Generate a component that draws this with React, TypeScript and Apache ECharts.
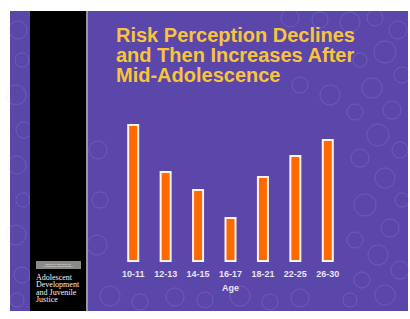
import React, { useEffect, useRef } from "react";
import * as echarts from "echarts";

const ageGroups = ["10-11", "12-13", "14-15", "16-17", "18-21", "22-25", "26-30"];
const riskPerception = [138, 91, 73, 45, 86, 107, 123];
const titleLines = ["Risk Perception Declines", "and Then Increases After", "Mid-Adolescence"];
const sideTextLines = ["Adolescent", "Development", "and Juvenile", "Justice"];
const xAxisName = "Age";

// decorative bubble pattern of the slide background: [cx, cy, r]
const bubbles: number[][] = [
  [18, 30, 9], [22, 60, 7], [16, 95, 10], [24, 130, 8], [17, 165, 9], [23, 200, 7], [16, 235, 10], [22, 275, 8], [17, 300, 7],
  [350, 22, 10], [375, 18, 8], [398, 30, 9], [385, 52, 11], [360, 60, 7], [402, 75, 8], [372, 88, 10], [392, 110, 9],
  [355, 112, 8], [378, 135, 11], [400, 150, 8], [360, 158, 9], [385, 178, 10], [402, 200, 7], [365, 205, 11], [390, 228, 9],
  [355, 240, 8], [378, 255, 10], [400, 270, 9], [362, 280, 8], [385, 295, 10], [350, 300, 7], [300, 298, 9], [270, 302, 8],
  [240, 296, 10], [205, 300, 8], [175, 297, 9], [140, 302, 8], [110, 296, 10], [98, 150, 9], [100, 200, 8], [97, 245, 10],
  [320, 20, 8], [290, 18, 9], [300, 85, 8], [330, 95, 10]
];

export default function App() {
  const ref = useRef<HTMLDivElement>(null);
  useEffect(() => {
    if (!ref.current) return;
    const chart = echarts.init(ref.current, undefined, { renderer: "svg" });
    const bubbleEls = bubbles.map(([cx, cy, r]) => ({
      type: "circle",
      shape: { cx, cy, r },
      style: { fill: "none", stroke: "rgba(200,190,255,0.16)", lineWidth: 1 },
      z: -9,
    }));
    chart.setOption({
      animation: false,
      backgroundColor: "#ffffff",
      graphic: [
        { type: "rect", shape: { x: 10, y: 11, width: 398, height: 300 }, style: { fill: "#5b47aa" }, z: -10 },
        ...bubbleEls,
        { type: "rect", shape: { x: 30, y: 11, width: 56, height: 300 }, style: { fill: "#000000" }, z: -8 },
        { type: "rect", shape: { x: 86, y: 11, width: 2, height: 300 }, style: { fill: "#9a96a8" }, z: -8 },
        { type: "rect", shape: { x: 36, y: 261, width: 45, height: 8 }, style: { fill: "#8c8a88" }, z: -7 },
        {
          type: "text",
          x: 58,
          y: 265,
          style: {
            text: "RESEARCH NETWORK ON\nADOLESCENT DEVELOPMENT",
            fill: "#e8e6e2",
            font: "2px 'Liberation Sans', Arial, sans-serif",
            align: "center",
            verticalAlign: "middle",
          },
          z: -6,
        },
        ...sideTextLines.map((t, i) => ({
          type: "text",
          x: 36,
          y: 277 + i * 7.5,
          style: {
            text: t,
            fill: "#f2f2f2",
            font: "8px 'Liberation Serif', 'Times New Roman', serif",
            align: "left",
            verticalAlign: "middle",
          },
          z: -6,
        })),
        {
          type: "text",
          x: 116,
          y: 25,
          style: {
            text: titleLines.join("\n"),
            fill: "#f7c53c",
            font: "bold 20px 'Liberation Sans', Arial, sans-serif",
            lineHeight: 20,
            align: "left",
            verticalAlign: "top",
          },
        },
      ],
      grid: { left: 117, right: 66, top: 112, bottom: 57, containLabel: false },
      xAxis: {
        type: "category",
        data: ageGroups,
        name: xAxisName,
        nameLocation: "middle",
        nameGap: 21,
        nameTextStyle: { color: "#e6e2f2", fontSize: 9, fontWeight: "bold", fontFamily: "'Liberation Sans', Arial, sans-serif" },
        axisLine: { show: false },
        axisTick: { show: false },
        axisLabel: {
          color: "#e6e2f2",
          fontSize: 9,
          fontWeight: "bold",
          fontFamily: "'Liberation Sans', Arial, sans-serif",
          margin: 7,
          interval: 0,
        },
      },
      yAxis: {
        type: "value",
        min: 0,
        max: 150,
        show: false,
        splitLine: { show: false },
      },
      series: [
        {
          type: "bar",
          data: riskPerception,
          barWidth: 12,
          itemStyle: { color: "#ff6a00", borderColor: "#fff4ea", borderWidth: 2 },
        },
      ],
    });
    return () => chart.dispose();
  }, []);
  return <div ref={ref} style={{ position: "fixed", left: 0, top: 0, width: 410, height: 319 }} />;
}
